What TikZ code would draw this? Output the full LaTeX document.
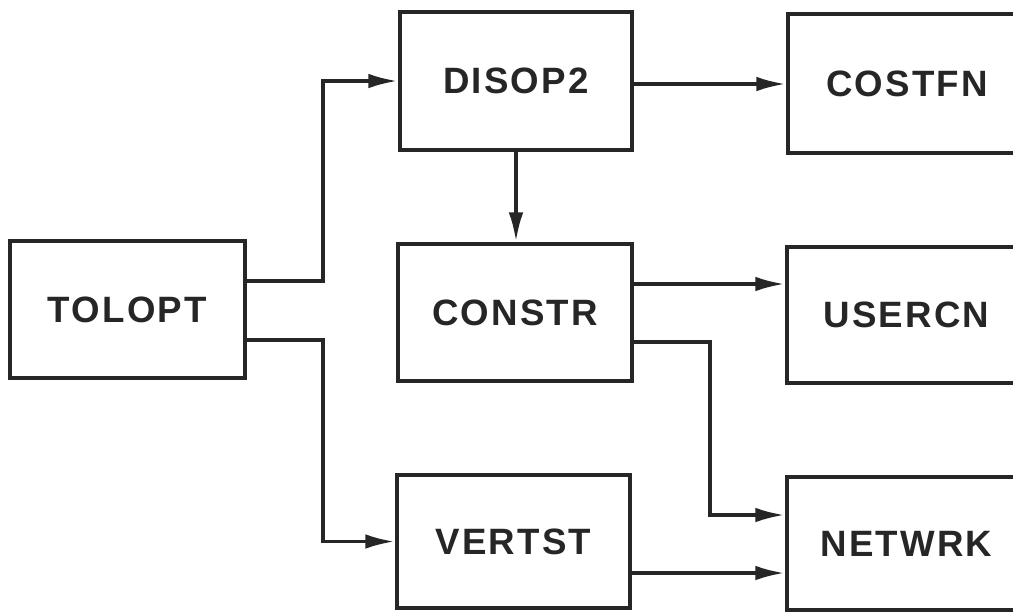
\documentclass[tikz,border=0pt]{standalone}
\usepackage{fontspec}
\newfontfamily\lblfont[LetterSpace=6]{Liberation Sans}
\usetikzlibrary{arrows.meta,calc}
\tikzset{
  blk/.style={draw=black!85, line width=3.6pt, inner sep=0pt, font=\lblfont\bfseries\fontsize{27.5}{30}\selectfont, text=black!85},
  conn/.style={draw=black!85, line width=2.6pt},
  arr/.style={conn, -{Latex[length=22pt,width=11pt]}}
}
\begin{document}
\begin{tikzpicture}[x=0.75pt,y=-0.75pt]
\useasboundingbox (0,0) rectangle (1013,612);
\clip (0,0) rectangle (1013,612);
\fill[white] (0,0) rectangle (1013,612);
\node[blk, minimum width=235*0.75pt, minimum height=137*0.75pt] (tolopt) at (127.5,309.5) {TOLOPT};
\node[blk, minimum width=232*0.75pt, minimum height=138*0.75pt] (disop2) at (516,81) {DISOP2};
\node[blk, minimum width=234*0.75pt, minimum height=137*0.75pt] (constr) at (515,312.5) {CONSTR};
\node[blk, minimum width=233*0.75pt, minimum height=133*0.75pt] (vertst) at (513.5,541.5) {VERTST};
\node[blk, minimum width=238*0.75pt, minimum height=139*0.75pt] (costfn) at (907,83.5) {COSTFN};
\node[blk, minimum width=239*0.75pt, minimum height=136*0.75pt] (usercn) at (906.5,315) {USERCN};
\node[blk, minimum width=239*0.75pt, minimum height=133*0.75pt] (netwrk) at (906.5,543.5) {NETWRK};
\coordinate (j1) at (323,281);
\coordinate (j2) at (323,340);
\coordinate (j3) at (710,342);
\draw[arr] (tolopt.east |- j1) -- (j1) |- (disop2.west);
\draw[arr] (tolopt.east |- j2) -- (j2) |- (vertst.west);
\draw[arr] (disop2.south) -- (disop2.south |- constr.north);
\draw[arr] (disop2.east |- 0,84) -- (costfn.west |- 0,84);
\draw[arr] (constr.east |- 0,284) -- (usercn.west |- 0,284);
\draw[arr] (constr.east |- j3) -- (j3) |- (netwrk.west |- 0,515);
\draw[arr] (vertst.east |- 0,573) -- (netwrk.west |- 0,573);
\end{tikzpicture}
\end{document}
